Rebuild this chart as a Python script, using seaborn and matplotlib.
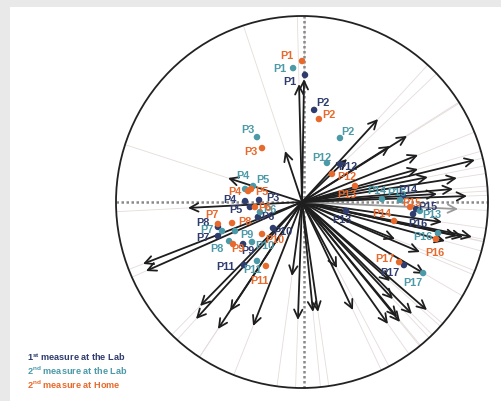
import numpy as np
import pandas as pd
import matplotlib
matplotlib.use("Agg")
import matplotlib.pyplot as plt
from matplotlib.patches import Circle, Rectangle
import seaborn as sns

# ---------------- data (loadings / scores, unit circle) ----------------
arrow_x = [-0.016, 0.011, -0.091, -0.398, -0.613, -0.855, -0.839, -0.548, -0.570, -0.452,
           -0.387, -0.263, -0.054, -0.022, 0.059, 0.086, 0.188, 0.274, 0.462, 0.511,
           0.527, 0.591, 0.672, 0.473, 0.661, 0.634, 0.500, 0.769, 0.833, 0.866,
           0.914, 0.753, 0.839, 0.887, 0.726, 0.812, 0.833, 0.677, 0.624, 0.930,
           0.624, 0.473, 0.565, 0.409, 0.242, 0.489]
arrow_y = [0.634, 0.661, 0.274, 0.129, -0.032, -0.333, -0.371, -0.559, -0.629, -0.683,
           -0.586, -0.667, -0.398, -0.634, -0.591, -0.591, -0.355, -0.581, -0.656, -0.618,
           -0.645, -0.602, -0.581, -0.425, -0.387, -0.269, -0.199, -0.210, -0.183, -0.188,
           -0.188, -0.108, -0.038, 0.032, 0.043, 0.070, 0.129, 0.134, 0.177, 0.226,
           0.253, 0.301, 0.355, 0.446, 0.231, -0.522]
arrow_muted = [i == 32 for i in range(len(arrow_x))]

participants = [f"P{i}" for i in range(1, 18)]

lab1_x = [0.016, 0.065, -0.231, -0.306, -0.280, -0.237, -0.452, -0.452, -0.317, -0.156,
          -0.312, 0.204, 0.237, 0.543, 0.613, 0.597, 0.548]
lab1_y = [0.683, 0.495, 0.011, 0.005, -0.027, -0.081, -0.183, -0.134, -0.226, -0.140,
          -0.339, 0.204, -0.048, 0.032, -0.038, -0.065, -0.339]

lab2_x = [-0.048, 0.204, -0.242, -0.306, -0.263, -0.226, -0.430, -0.392, -0.360, -0.269,
          -0.242, 0.134, 0.634, 0.430, 0.527, 0.731, 0.651]
lab2_y = [0.720, 0.344, 0.349, 0.070, 0.086, -0.054, -0.156, -0.210, -0.156, -0.215,
          -0.317, 0.210, -0.048, 0.016, 0.011, -0.167, -0.382]

home_x = [0.000, 0.091, -0.215, -0.290, -0.274, -0.253, -0.452, -0.376, -0.371, -0.215,
          -0.194, 0.161, 0.285, 0.495, 0.581, 0.720, 0.522]
home_y = [0.758, 0.446, 0.290, 0.059, 0.070, -0.027, -0.118, -0.113, -0.226, -0.172,
          -0.344, 0.151, 0.086, -0.102, -0.027, -0.199, -0.323]

groups = ["1st measure at the Lab", "2nd measure at the Lab", "2nd measure at Home"]
legend_texts = [r"1$^{\mathbf{st}}$ measure at the Lab",
                r"2$^{\mathbf{nd}}$ measure at the Lab",
                r"2$^{\mathbf{nd}}$ measure at Home"]

# ---------------- styling / layout ----------------
colors = {groups[0]: "#2f3c6e", groups[1]: "#4c9aa8", groups[2]: "#e8692c"}

# label offsets in pixels (dx, dy-up) per group
lab1_off = [(-15, -6), (9, 8), (14, 3), (-15, 2), (-14, -2), (10, 1), (-15, -1), (-15, 5),
            (5, -6), (10, -3), (-19, -1), (8, -2), (-4, -8), (5, 7), (12, 3), (5, -9), (-14, -7)]
lab2_off = [(-13, 0), (8, 7), (-9, 8), (-2, 14), (10, 7), (10, 3), (-15, 2), (-12, -7),
            (12, -3), (13, -3), (-5, -8), (-5, 6), (12, -3), (-5, 9), (-3, 8), (-15, -3), (-10, -9)]
home_off = [(-15, 6), (10, 5), (-11, -3), (-13, 0), (11, -2), (10, 0), (-6, 10), (13, 2),
            (5, -4), (13, -5), (-6, -14), (15, -2), (-8, -8), (-12, 8), (2, 5), (-1, -13), (-14, 4)]

sns.set_theme(style="white")
plt.rcParams["font.family"] = ["Liberation Sans", "DejaVu Sans"]
plt.rcParams["mathtext.fontset"] = "custom"
plt.rcParams["mathtext.rm"] = "Liberation Sans"
plt.rcParams["mathtext.bf"] = "Liberation Sans:bold"

W, H = 501, 402
fig = plt.figure(figsize=(W / 100, H / 100), dpi=100)
fig.patch.set_facecolor("#e9e9e9")
fig.patches.append(Rectangle((10 / W, 0), 1, (H - 8) / H, transform=fig.transFigure,
                             facecolor="white", edgecolor="none", zorder=-5))

ax = fig.add_axes([0, 0, 1, 1])
ax.set_facecolor("none")
ax.patch.set_alpha(0)
cx, cy, R = 302, 203, 186.0
ax.set_xlim(-cx / R, (W - cx) / R)
ax.set_ylim((cy - H) / R, cy / R)
ax.set_aspect("equal")
ax.axis("off")

# unit circle
ax.add_patch(Circle((0, 0), 1, fill=False, edgecolor="#222222", lw=1.3, zorder=2))

# faint radial lines to circle
for x, y in zip(arrow_x, arrow_y):
    r = np.hypot(x, y)
    ax.plot([0, x / r], [0, y / r], color="#e4dcda", lw=0.6, zorder=1)

# dashed axes
ax.plot([-1, 1], [0, 0], color="#8a8a8a", lw=1.8, ls=(0, (1, 1)), zorder=1.5)
ax.plot([0.011, 0.011], [-1, 1], color="#8a8a8a", lw=1.8, ls=(0, (1, 1)), zorder=1.5)

# arrows
for x, y, m in zip(arrow_x, arrow_y, arrow_muted):
    ax.annotate("", xy=(x, y), xytext=(0, 0),
                arrowprops=dict(arrowstyle="->", color="#9a9a9a" if m else "#1e1e1e",
                                lw=1.3, mutation_scale=15, shrinkA=0, shrinkB=0),
                zorder=3)

# points
df = pd.concat([
    pd.DataFrame({"x": lab1_x, "y": lab1_y, "label": participants, "group": groups[0]}),
    pd.DataFrame({"x": lab2_x, "y": lab2_y, "label": participants, "group": groups[1]}),
    pd.DataFrame({"x": home_x, "y": home_y, "label": participants, "group": groups[2]}),
], ignore_index=True)
sns.scatterplot(data=df, x="x", y="y", hue="group", palette=colors, s=22,
                edgecolor="none", legend=False, ax=ax, zorder=4)

offsets = {groups[0]: lab1_off, groups[1]: lab2_off, groups[2]: home_off}
for g in groups:
    sub = df[df["group"] == g].reset_index(drop=True)
    for i, row in sub.iterrows():
        dx, dy = offsets[g][i]
        ax.annotate(row["label"], (row["x"], row["y"]), xytext=(dx, dy),
                    textcoords="offset pixels", ha="center", va="center",
                    fontsize=7.8, fontweight="bold", color=colors[g], zorder=5)

# text legend
for k, (g, t) in enumerate(zip(groups, legend_texts)):
    fig.text(27 / W, 1 - (357 + 14 * k) / H, t, color=colors[g], fontsize=6.6,
             fontweight="bold", ha="left", va="center")

fig.savefig("out.png", dpi=100)
